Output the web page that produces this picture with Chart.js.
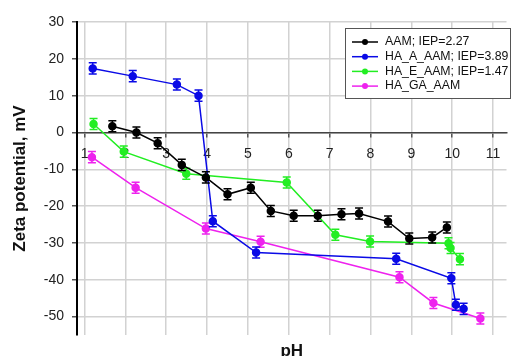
<!DOCTYPE html>
<html>
<head>
<meta charset="utf-8">
<script src="https://cdn.jsdelivr.net/npm/chart.js@4.4.0/dist/chart.umd.min.js"></script>
<style>
  html, body { margin: 0; padding: 0; background: #fff; }
  #wrap { width: 512px; height: 356px; }
</style>
</head>
<body>
<div id="wrap"><canvas id="zeta" width="512" height="356"></canvas></div>
<script>
// zeta potential vs pH, one pair of arrays per sample
var aamPH    = [1.68, 2.27, 2.79, 3.38, 3.97, 4.5, 5.07, 5.56, 6.12, 6.71, 7.29, 7.72, 8.43, 8.95, 9.51, 9.87];
var aamZeta  = [1.7, 0, -2.9, -8.8, -12.2, -16.8, -15.0, -21.3, -22.6, -22.6, -22.2, -22.0, -24.2, -28.8, -28.5, -25.8];

var haaPH    = [1.2, 2.18, 3.26, 3.79, 4.14, 5.2, 8.63, 9.98, 10.09, 10.28];
var haaZeta  = [17.4, 15.3, 13.0, 10.0, -24.1, -32.6, -34.3, -39.6, -46.8, -47.9];

var haePH    = [1.22, 1.96, 3.49, 5.95, 7.14, 7.99, 9.91, 9.96, 10.19];
var haeZeta  = [2.3, -5.2, -11.2, -13.6, -27.8, -29.6, -30.1, -31.4, -34.4];

var hagaPH   = [1.18, 2.25, 3.97, 5.31, 8.71, 9.54, 10.69];
var hagaZeta = [-6.7, -15.0, -26.1, -29.7, -39.3, -46.3, -50.5];

var labels   = ['AAM; IEP=2.27', 'HA_A_AAM; IEP=3.89', 'HA_E_AAM; IEP=1.47', 'HA_GA_AAM'];
var colors   = ['#000000', '#0a0ae6', '#22ee22', '#ee22ee'];
var errHalf  = 1.5;   // +/- on every measurement

Chart.defaults.font.family = '"Liberation Sans", Arial, sans-serif';

function pairs(xs, ys) {
    return xs.map(function (x, i) { return { x: x, y: ys[i] }; });
}

function series(i, xs, ys) {
    return {
        label: labels[i],
        data: pairs(xs, ys),
        borderColor: colors[i],
        backgroundColor: colors[i],
        pointBackgroundColor: colors[i],
        pointBorderColor: colors[i],
        pointRadius: 3.5,
        borderWidth: 1.5,
        tension: 0
    };
}

// vertical error bars with caps, drawn just under each dataset
var errorBars = {
    id: 'errorBars',
    beforeDatasetDraw: function (chart, args) {
        var ds = chart.data.datasets[args.index];
        var xs = chart.scales.x, ys = chart.scales.y, ctx = chart.ctx;
        ctx.save();
        ctx.strokeStyle = ds.borderColor;
        ctx.lineWidth = 1.5;
        ds.data.forEach(function (p) {
            var px = xs.getPixelForValue(p.x);
            var top = ys.getPixelForValue(p.y + errHalf);
            var bot = ys.getPixelForValue(p.y - errHalf);
            ctx.beginPath();
            ctx.moveTo(px, top); ctx.lineTo(px, bot);
            ctx.moveTo(px - 4, top); ctx.lineTo(px + 4, top);
            ctx.moveTo(px - 4, bot); ctx.lineTo(px + 4, bot);
            ctx.stroke();
        });
        ctx.restore();
    }
};

// boxed legend in the upper right corner of the plot
var boxLegend = {
    id: 'boxLegend',
    afterDraw: function (chart) {
        var ctx = chart.ctx;
        var x0 = 345.5, y0 = 28.5, w = 165, h = 70;
        ctx.save();
        ctx.fillStyle = '#fff';
        ctx.fillRect(x0, y0, w, h);
        ctx.strokeStyle = '#555';
        ctx.lineWidth = 1;
        ctx.strokeRect(x0, y0, w, h);
        ctx.font = '12.3px "Liberation Sans", Arial, sans-serif';
        ctx.textBaseline = 'middle';
        chart.data.datasets.forEach(function (ds, i) {
            var y = y0 + 13.5 + i * 14.7;
            ctx.strokeStyle = ds.borderColor;
            ctx.lineWidth = 1.5;
            ctx.beginPath();
            ctx.moveTo(352, y); ctx.lineTo(378, y);
            ctx.stroke();
            ctx.fillStyle = ds.borderColor;
            ctx.beginPath();
            ctx.arc(365, y, 3, 0, 2 * Math.PI);
            ctx.fill();
            ctx.fillStyle = '#111';
            ctx.fillText(ds.label, 385, y);
        });
        ctx.restore();
    }
};

var ctx = document.getElementById('zeta').getContext('2d');
var zetaChart = new Chart(ctx, {
    type: 'line',
    data: {
        datasets: [
            series(0, aamPH, aamZeta),
            series(1, haaPH, haaZeta),
            series(2, haePH, haeZeta),
            series(3, hagaPH, hagaZeta)
        ]
    },
    options: {
        responsive: false,
        animation: false,
        layout: { padding: { top: 22, right: 0, bottom: 0, left: 0 } },
        plugins: {
            legend: { display: false },
            tooltip: { enabled: false }
        },
        scales: {
            x: {
                type: 'linear',
                position: { y: 0 },
                min: 0.815,
                max: 11.33,
                ticks: { stepSize: 1, includeBounds: false, padding: 9, color: '#222', font: { size: 14 } },
                grid: { color: '#d2d2d2', lineWidth: 1.5, tickLength: 4, tickColor: '#555' },
                border: { color: '#444', width: 1.5 }
            },
            x2: {
                type: 'linear',
                position: 'bottom',
                min: 0.815,
                max: 11.33,
                ticks: { display: false },
                grid: { display: false, drawTicks: false },
                border: { display: false },
                title: {
                    display: true, text: 'pH', color: '#111',
                    font: { size: 17, weight: 'bold', lineHeight: 1 },
                    padding: { top: 0, bottom: -4 }
                },
                afterFit: function (s) { s.height = 21; }
            },
            y: {
                min: -55,
                max: 30,
                ticks: { stepSize: 10, includeBounds: false, padding: 8, color: '#222', font: { size: 14 } },
                grid: { color: '#d2d2d2', lineWidth: 1.5, tickLength: 5, tickColor: '#555' },
                border: { color: '#000', width: 2 },
                title: {
                    display: true, text: 'Zeta potential, mV', color: '#111',
                    font: { size: 17, weight: 'bold' },
                    padding: { top: 10, bottom: 0 }
                },
                afterFit: function (s) { s.width = 77; }
            }
        }
    },
    plugins: [errorBars, boxLegend]
});
</script>
</body>
</html>
